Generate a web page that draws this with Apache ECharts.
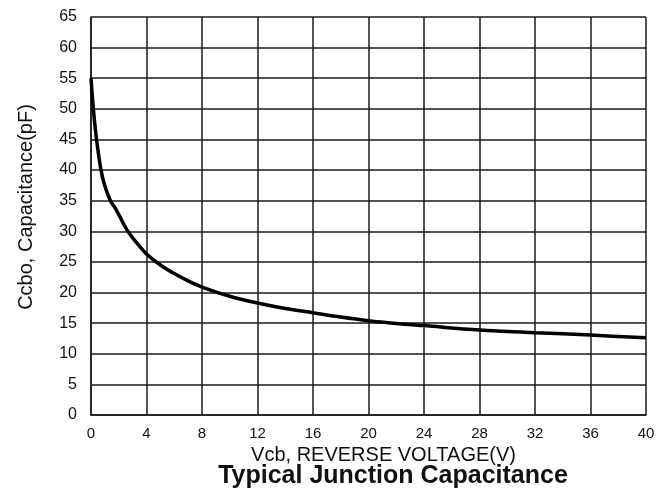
<!DOCTYPE html>
<html>
<head>
<meta charset="utf-8">
<title>Typical Junction Capacitance</title>
<script src="https://cdn.jsdelivr.net/npm/echarts@6/dist/echarts.min.js"></script>
<style>
  html, body { margin: 0; padding: 0; background: #fff; }
  #chart { width: 669px; height: 491px; }
</style>
</head>
<body>
<div id="chart"></div>
<script>
// Reverse voltage Vcb (V) and the matching collector-base capacitance Ccbo (pF)
var voltage = [0, 0.17, 0.4, 0.72, 1.0, 1.4, 1.8, 2.6, 3.3, 4, 5, 6, 7, 8, 10,
               12, 14, 16, 18, 20, 22, 24, 28, 32, 36, 40];
var capacitance = [55, 50, 45, 40, 37.4, 35, 33.6, 30.2, 28.1, 26.3, 24.5, 23.1, 21.9, 20.9, 19.4,
                   18.3, 17.4, 16.7, 16, 15.4, 14.95, 14.6, 13.9, 13.45, 13.05, 12.6];

var xRange = { min: 0, max: 40, step: 4 };
var yRange = { min: 0, max: 65, step: 5 };

var chartTitle = 'Typical Junction Capacitance';
var xAxisTitle = 'Vcb, REVERSE VOLTAGE(V)';
var yAxisTitle = 'Ccbo, Capacitance(pF)';

var points = voltage.map(function (v, i) { return [v, capacitance[i]]; });

var FONT = '"Liberation Sans", Arial, sans-serif';
var gridLine = { color: '#1a1a1a', width: 1.5 };

var chart = echarts.init(document.getElementById('chart'), null, { renderer: 'canvas' });

chart.setOption({
  animation: false,
  backgroundColor: '#fff',
  title: {
    text: chartTitle,
    left: 388,
    top: 459,
    textAlign: 'center',
    textStyle: { fontFamily: FONT, fontSize: 25, fontWeight: 'bold', color: '#111' }
  },
  grid: { left: 91, right: 23, top: 17, bottom: 76, containLabel: false },
  xAxis: {
    type: 'value',
    min: xRange.min,
    max: xRange.max,
    interval: xRange.step,
    name: xAxisTitle,
    nameLocation: 'middle',
    nameGap: 26,
    nameTextStyle: { fontFamily: FONT, fontSize: 20, color: '#111', padding: [0, 0, 0, 30] },
    axisLine: { show: true, lineStyle: gridLine },
    axisTick: { show: false },
    axisLabel: { fontFamily: FONT, fontSize: 15, color: '#111', margin: 11 },
    splitLine: { show: true, lineStyle: gridLine }
  },
  yAxis: {
    type: 'value',
    min: yRange.min,
    max: yRange.max,
    interval: yRange.step,
    name: yAxisTitle,
    nameLocation: 'middle',
    nameRotate: 90,
    nameGap: 55,
    nameTextStyle: { fontFamily: FONT, fontSize: 20, color: '#111', padding: [0, 0, 0, 18] },
    axisLine: { show: true, lineStyle: gridLine },
    axisTick: { show: false },
    axisLabel: { fontFamily: FONT, fontSize: 16, color: '#111', margin: 14 },
    splitLine: { show: true, lineStyle: gridLine }
  },
  series: [{
    type: 'line',
    data: points,
    smooth: 0.35,
    showSymbol: false,
    lineStyle: { color: '#000', width: 3.5 }
  }]
});
</script>
</body>
</html>
